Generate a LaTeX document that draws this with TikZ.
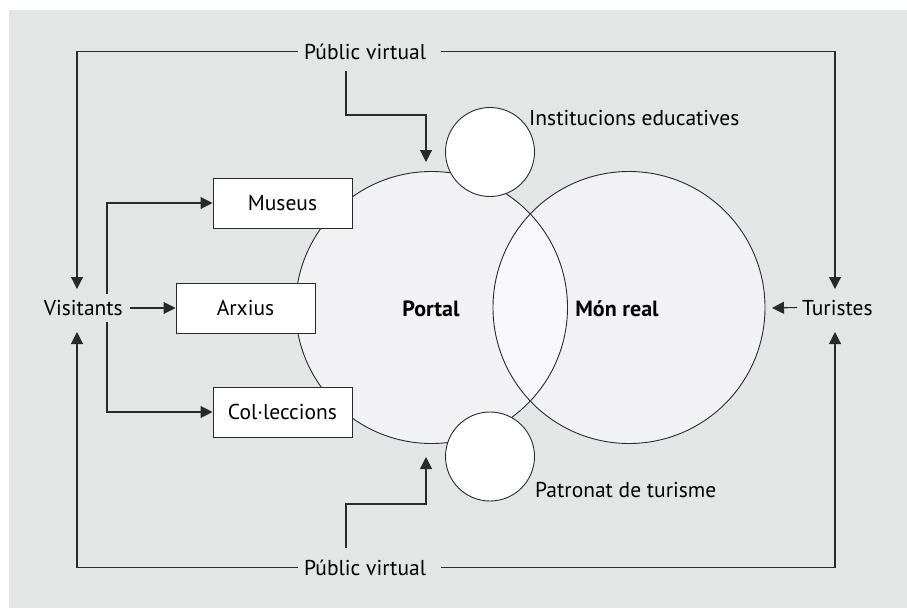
\documentclass[tikz,border=0pt]{standalone}
\usepackage{fontspec}
\setmainfont{PT Sans}
\usetikzlibrary{arrows.meta}
\definecolor{bg}{HTML}{E4E5E5}
\definecolor{cfill}{HTML}{F2F2F4}
\definecolor{lensc}{HTML}{F8F8FA}
\definecolor{lnc}{HTML}{2A2A2A}
\begin{document}
\begin{tikzpicture}[x=1pt,y=-1pt,
  lbl/.style={font=\fontsize{21.5}{25}\selectfont, inner sep=0pt},
  boldlbl/.style={font=\fontsize{22}{26}\selectfont\bfseries, inner sep=0pt},
  box/.style={draw=lnc, line width=1pt, fill=white, minimum width=139pt, minimum height=50pt, inner sep=0pt, font=\fontsize{21.5}{25}\selectfont},
  big/.style={circle, minimum size=272pt, inner sep=0pt},
  circline/.style={draw=lnc, line width=0.9pt},
  small/.style={circle, draw=lnc, line width=0.9pt, fill=white, minimum size=89pt, inner sep=0pt},
  arr/.style={draw=lnc, line width=1.1pt, -{Triangle[length=12pt,width=12pt]}},
  plain/.style={draw=lnc, line width=1.1pt}]
\useasboundingbox (0,0) rectangle (907,608);
\fill[white] (0,0) rectangle (907,608);
\fill[bg] (9,10) rectangle (907,608);
% big circles
\node[big, fill=cfill] (portal) at (431.5,307.5) {};
\node[big, fill=cfill] (mon) at (629,307.5) {};
\begin{scope}
  \clip (431.5,307.5) circle[radius=136];
  \fill[lensc] (629,307.5) circle[radius=136];
\end{scope}
\draw[circline] (portal.center) circle[radius=136];
\draw[circline] (mon.center) circle[radius=136];
% small circles
\node[small] (inst) at (490,152) {};
\node[small] (patr) at (490,456.5) {};
% boxes
\node[box] (mus) at (282.5,203) {Museus};
\node[box] (arx) at (245.5,308) {Arxius};
\node[box] (col) at (282.5,412) {Col·leccions};
% labels
\node[boldlbl, anchor=base] (portall) at (431,316) {Portal};
\node[boldlbl, anchor=base] (monl) at (617,316) {Món real};
\node[lbl, anchor=base west] (instl) at (529,125) {Institucions educatives};
\node[lbl, anchor=base west] (patrl) at (535,497) {Patronat de turisme};
\node[lbl, anchor=base west, inner xsep=6pt] (pvt) at (298,59) {Públic virtual};
\node[lbl, anchor=base west, inner xsep=6pt] (pvb) at (298,575) {Públic virtual};
\node[lbl, anchor=base east] (vis) at (123,315) {Visitants};
\node[lbl, anchor=base west, inner xsep=5pt] (tur) at (797,315) {Turistes};
% coordinates
\coordinate (visUp) at (77,289);
\coordinate (visDn) at (77,332);
\coordinate (turUp) at (835,289);
\coordinate (turDn) at (835,332);
\coordinate (topStart) at (346,71);
\coordinate (topTip) at (426,162);
\coordinate (botStart) at (346,548);
\coordinate (botTip) at (426,457);
\coordinate (visOut) at (130,308);
\coordinate (brUp) at (107,294);
\coordinate (brDn) at (107,322);
\coordinate (monIn) at (772,308);
% connectors
\draw[arr] (pvt.west) -| (visUp);
\draw[arr] ([xshift=9pt]pvt.east) -| (turUp);
\draw[arr] (pvb.west) -| (visDn);
\draw[arr] ([xshift=9pt]pvb.east) -| (turDn);
\draw[arr] (topStart) -- (346,115) -| (topTip);
\draw[arr] (botStart) -- (346,504) -| (botTip);
\draw[arr] (visOut) -- (arx.west);
\draw[arr] (brUp) |- (mus.west);
\draw[arr] (brDn) |- (col.west);
\draw[arr] (tur.west) -- (monIn);
\end{tikzpicture}
\end{document}
